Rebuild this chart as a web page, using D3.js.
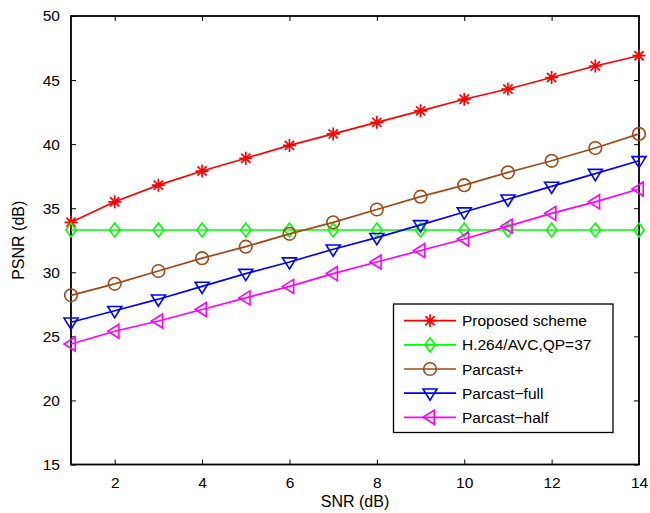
<!DOCTYPE html>
<html><head><meta charset="utf-8">
<script src="https://cdn.jsdelivr.net/npm/d3@7"></script>
<style>body{margin:0;background:#fff}text{font-family:"Liberation Sans",Arial,sans-serif}</style>
</head><body>
<svg id="c" width="650" height="513"></svg>
<script>
const snr = [1,2,3,4,5,6,7,8,9,10,11,12,13,14];
const proposed = [33.9,35.5,36.8,37.9,38.9,39.9,40.8,41.7,42.6,43.5,44.3,45.2,46.1,46.9];
const h264 = [33.3,33.3,33.3,33.3,33.3,33.3,33.3,33.3,33.3,33.3,33.3,33.3,33.3,33.3];
const parcastPlus = [28.2,29.1,30.1,31.1,32.0,33.0,33.9,34.9,35.9,36.8,37.8,38.7,39.7,40.8];
const parcastFull = [26.1,27.0,27.9,28.9,29.9,30.8,31.8,32.7,33.7,34.7,35.7,36.7,37.7,38.7];
const parcastHalf = [24.4,25.4,26.2,27.1,28.0,28.9,29.9,30.8,31.7,32.6,33.6,34.6,35.5,36.5];
const seriesNames = ["Proposed scheme","H.264/AVC,QP=37","Parcast+","Parcast\u2212full","Parcast\u2212half"];
const xTicks = [2,4,6,8,10,12,14];
const yTicks = [15,20,25,30,35,40,45,50];

const series = [
  {name:seriesNames[0], vals:proposed, color:"#ff0000", marker:"star"},
  {name:seriesNames[1], vals:h264, color:"#00ff00", marker:"diamond"},
  {name:seriesNames[2], vals:parcastPlus, color:"#a24a17", marker:"circle"},
  {name:seriesNames[3], vals:parcastFull, color:"#0000ff", marker:"tridown"},
  {name:seriesNames[4], vals:parcastHalf, color:"#ff00ff", marker:"trileft"}
];

const L=71, R=639, T=16, B=464.5;
const svg = d3.select("#c");
const x = d3.scaleLinear().domain([1,14]).range([L,R]);
const y = d3.scaleLinear().domain([15,50]).range([B,T]);

const fs = 15.5;
svg.append("g").attr("transform",`translate(0,${B})`)
  .call(d3.axisBottom(x).tickValues(xTicks).tickSizeInner(-5).tickSizeOuter(0).tickPadding(12))
  .call(g=>{g.select(".domain").remove();g.selectAll("text").attr("font-size",fs).attr("fill","#000").attr("font-family","Liberation Sans, Arial, sans-serif");g.selectAll("line").attr("stroke","#000");});
svg.append("g").attr("transform",`translate(0,${T})`)
  .call(d3.axisTop(x).tickValues(xTicks).tickSizeInner(-5).tickSizeOuter(0).tickFormat(""))
  .call(g=>{g.select(".domain").remove();g.selectAll("line").attr("stroke","#000");});
svg.append("g").attr("transform",`translate(${L},0)`)
  .call(d3.axisLeft(y).tickValues(yTicks).tickSizeInner(-5).tickSizeOuter(0).tickPadding(11))
  .call(g=>{g.select(".domain").remove();g.selectAll("text").attr("font-size",fs).attr("fill","#000").attr("font-family","Liberation Sans, Arial, sans-serif");g.selectAll("line").attr("stroke","#000");});
svg.append("g").attr("transform",`translate(${R},0)`)
  .call(d3.axisRight(y).tickValues(yTicks).tickSizeInner(-5).tickSizeOuter(0).tickFormat(""))
  .call(g=>{g.select(".domain").remove();g.selectAll("line").attr("stroke","#000");});
svg.append("rect").attr("x",L).attr("y",T).attr("width",R-L).attr("height",B-T)
  .attr("fill","none").attr("stroke","#000").attr("stroke-width",1.8);

svg.append("text").attr("x",(L+R)/2).attr("y",507).attr("text-anchor","middle").attr("font-size",16).text("SNR (dB)");
svg.append("text").attr("transform",`translate(24,${(T+B)/2}) rotate(-90)`).attr("text-anchor","middle").attr("font-size",16).text("PSNR (dB)");

function drawMarker(g, type, cx, cy, color){
  const s = 6.5;
  if(type==="star"){
    const p = [];
    for(let i=0;i<4;i++){const a=i*Math.PI/4;p.push(`M${cx-s*Math.cos(a)},${cy-s*Math.sin(a)}L${cx+s*Math.cos(a)},${cy+s*Math.sin(a)}`);}
    g.append("path").attr("d",p.join("")).attr("stroke",color).attr("stroke-width",1.7).attr("fill","none");
  } else if(type==="diamond"){
    const d=7;
    g.append("path").attr("d",`M${cx},${cy-d}L${cx+d*0.75},${cy}L${cx},${cy+d}L${cx-d*0.75},${cy}Z`).attr("stroke",color).attr("stroke-width",1.6).attr("fill","none");
  } else if(type==="circle"){
    g.append("circle").attr("cx",cx).attr("cy",cy).attr("r",6.3).attr("stroke",color).attr("stroke-width",1.6).attr("fill","none");
  } else if(type==="tridown"){
    const d=7;
    g.append("path").attr("d",`M${cx-d},${cy-d*0.6}L${cx+d},${cy-d*0.6}L${cx},${cy+d}Z`).attr("stroke",color).attr("stroke-width",1.6).attr("fill","none");
  } else if(type==="trileft"){
    const d=7;
    g.append("path").attr("d",`M${cx+d*0.6},${cy-d}L${cx+d*0.6},${cy+d}L${cx-d},${cy}Z`).attr("stroke",color).attr("stroke-width",1.6).attr("fill","none");
  }
}

const line = d3.line().x((d,i)=>x(snr[i])).y(d=>y(d));
series.forEach(s=>{
  const g = svg.append("g");
  g.append("path").attr("d",line(s.vals)).attr("fill","none").attr("stroke",s.color).attr("stroke-width",1.7);
  s.vals.forEach((v,i)=>drawMarker(g,s.marker,x(snr[i]),y(v),s.color));
});

const lg = svg.append("g");
lg.append("rect").attr("x",393.5).attr("y",304).attr("width",219.5).attr("height",128.5)
  .attr("fill","#fff").attr("stroke","#000").attr("stroke-width",1.3);
series.forEach((s,i)=>{
  const cy = 320.7 + i*24.15;
  lg.append("line").attr("x1",404).attr("x2",456).attr("y1",cy).attr("y2",cy).attr("stroke",s.color).attr("stroke-width",1.7);
  drawMarker(lg,s.marker,430,cy,s.color);
  lg.append("text").attr("x",462).attr("y",cy+5.5).attr("font-size",fs).text(s.name);
});
</script>
</body></html>
